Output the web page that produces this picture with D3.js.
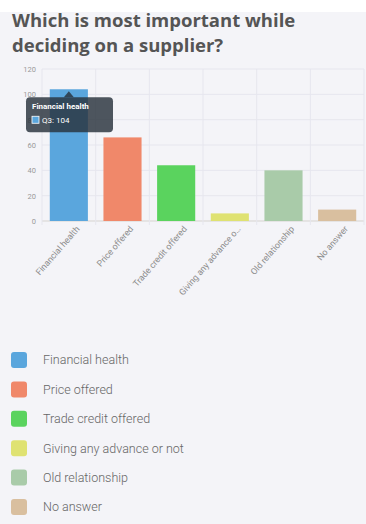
<!DOCTYPE html>
<html>
<head>
<meta charset="utf-8">
<script src="https://cdn.jsdelivr.net/npm/d3@7"></script>
<style>
  html, body { margin: 0; padding: 0; background: #f4f4f8; }
  svg { display: block; }
</style>
</head>
<body>
<svg id="chart" width="366" height="524"></svg>
<script>
// Survey answers: what matters most when choosing a supplier
const categories = ["Financial health", "Price offered", "Trade credit offered",
                    "Giving any advance or not", "Old relationship", "No answer"];
const axisLabels = ["Financial health", "Price offered", "Trade credit offered",
                    "Giving any advance o…", "Old relationship", "No answer"];
const values = [104, 66, 44, 6, 40, 9];
const colors = ["#5aa6dd", "#f0886a", "#5ad35e", "#dfe272", "#a9cba9", "#d9bf9f"];
const yTicks = [0, 20, 40, 60, 80, 100, 120];
const seriesName = "Q3";

const svg = d3.select("#chart");
const W = 366, H = 524;

// top white strip and page background
svg.append("rect").attr("width", W).attr("height", H).attr("fill", "#f4f4f8");
svg.append("rect").attr("width", W).attr("height", 12).attr("fill", "#ffffff");

// title
const title = svg.append("text")
  .attr("x", 12).attr("y", 27)
  .attr("font-family", "'Open Sans', 'Noto Sans', sans-serif")
  .attr("font-weight", 700).attr("font-size", 18.5).attr("fill", "#555555");
title.append("tspan").attr("x", 12).attr("y", 27).text("Which is most important while");
title.append("tspan").attr("x", 12).attr("y", 52).text("deciding on a supplier?");

// plot area
const plot = { left: 42, right: 364, top: 69, bottom: 221 };

const x = d3.scaleBand().domain(categories)
  .range([plot.left, plot.right]).paddingInner(0.29).paddingOuter(0.145);
const y = d3.scaleLinear().domain([0, 120]).range([plot.bottom, plot.top]);

const g = svg.append("g");

// horizontal grid
g.selectAll("line.hgrid").data(yTicks).join("line")
  .attr("class", "hgrid")
  .attr("x1", plot.left).attr("x2", plot.right)
  .attr("y1", d => y(d)).attr("y2", d => y(d))
  .attr("stroke", d => d === 0 ? "#d6d3cf" : "#e6e6ee").attr("stroke-width", 1);

// vertical grid at band edges
const edges = d3.range(categories.length + 1).map(i => plot.left + i * (plot.right - plot.left) / categories.length);
g.selectAll("line.vgrid").data(edges).join("line")
  .attr("class", "vgrid")
  .attr("x1", d => d).attr("x2", d => d)
  .attr("y1", plot.top).attr("y2", plot.bottom + 4)
  .attr("stroke", "#e6e6ee").attr("stroke-width", 1);

// y axis labels
const yAxis = d3.axisLeft(y).tickValues(yTicks).tickSize(0).tickPadding(6);
const ya = g.append("g").attr("transform", `translate(${plot.left},0)`).call(yAxis);
ya.select(".domain").remove();
ya.selectAll("text").attr("font-family", "Roboto, sans-serif")
  .attr("font-size", 7.5).attr("fill", "#9a9a9a");

// bars
g.selectAll("rect.bar").data(values).join("rect")
  .attr("class", "bar")
  .attr("x", (d, i) => x(categories[i]))
  .attr("width", x.bandwidth())
  .attr("y", d => y(d))
  .attr("height", d => y(0) - y(d))
  .attr("fill", (d, i) => colors[i]);

// x axis labels, rotated
const xAxis = d3.axisBottom(x).tickSize(0).tickPadding(7)
  .tickFormat((d, i) => axisLabels[i]);
const xa = g.append("g").attr("transform", `translate(0,${plot.bottom})`).call(xAxis);
xa.select(".domain").remove();
xa.selectAll("text")
  .attr("font-family", "Roboto, sans-serif")
  .attr("font-size", 8.8).attr("fill", "#8c8c8c")
  .attr("text-anchor", "end")
  .attr("dy", "0.3em")
  .attr("transform", "translate(4,2) rotate(-49)");

// tooltip on the first bar
const tipIdx = 0;
const cx = x(categories[tipIdx]) + x.bandwidth() / 2;
const tipTop = y(values[tipIdx]) + 8;
const tip = g.append("g");
tip.append("path")
  .attr("d", `M${cx - 5},${tipTop} L${cx},${tipTop - 6} L${cx + 5},${tipTop} Z`)
  .attr("fill", "rgba(40,50,60,0.82)");
tip.append("rect")
  .attr("x", 26).attr("y", tipTop).attr("width", 87).attr("height", 35).attr("rx", 4)
  .attr("fill", "rgba(40,50,60,0.82)");
tip.append("text")
  .attr("x", 32).attr("y", tipTop + 12)
  .attr("font-family", "Roboto, sans-serif").attr("font-weight", 700)
  .attr("font-size", 8).attr("fill", "#ffffff").text(categories[tipIdx]);
tip.append("rect")
  .attr("x", 32).attr("y", tipTop + 19).attr("width", 7).attr("height", 7)
  .attr("fill", colors[tipIdx]).attr("stroke", "#ffffff").attr("stroke-width", 0.8);
tip.append("text")
  .attr("x", 42).attr("y", tipTop + 26)
  .attr("font-family", "Roboto, sans-serif")
  .attr("font-size", 8).attr("fill", "#ffffff")
  .text(`${seriesName}: ${values[tipIdx]}`);

// legend
const legend = svg.append("g");
const rows = legend.selectAll("g").data(categories).join("g")
  .attr("transform", (d, i) => `translate(11,${360 + i * 29.4})`);
rows.append("rect")
  .attr("x", 0).attr("y", -8).attr("width", 16).attr("height", 16).attr("rx", 3)
  .attr("fill", (d, i) => colors[i]);
rows.append("text")
  .attr("x", 32).attr("y", 0).attr("dy", "0.35em")
  .attr("font-family", "Roboto, sans-serif").attr("font-weight", 300)
  .attr("font-size", 12.5).attr("fill", "#666666")
  .text(d => d);
</script>
</body>
</html>
